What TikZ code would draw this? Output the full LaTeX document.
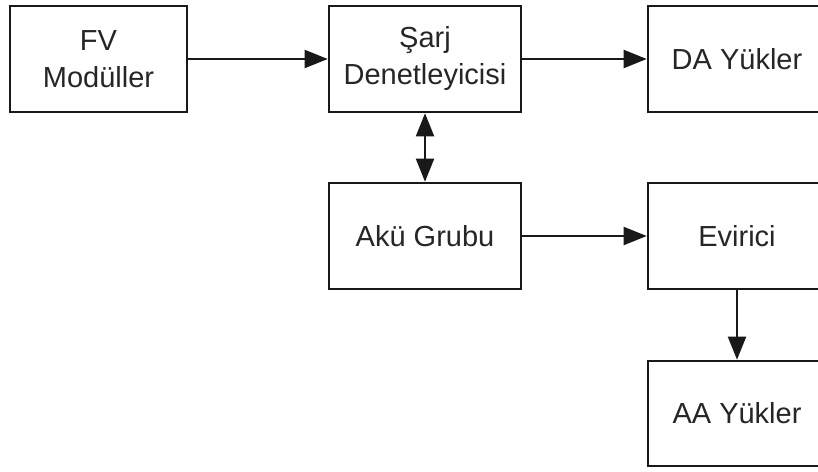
\documentclass[tikz,border=0pt]{standalone}
\usepackage{fontspec}
\setmainfont{Liberation Sans}
\usetikzlibrary{arrows.meta}
\begin{document}
\begin{tikzpicture}[x=1pt,y=-1pt,
  blk/.style={draw=black!90, line width=2.6pt, minimum width=#1, minimum height=106pt, inner sep=0pt, align=center, font=\fontsize{29}{37}\selectfont, text=black!85},
  blk/.default=177pt,
  conn/.style={draw=black!90, line width=2pt, -{Triangle[length=23pt,width=18pt]}},
  dconn/.style={draw=black!90, line width=2pt, {Triangle[length=23pt,width=18pt]}-{Triangle[length=23pt,width=18pt]}}]
\clip (0,0) rectangle (818,471);
\fill[white] (0,0) rectangle (818,471);
\node[blk=177pt] (fv) at (98.5,59) {FV\\Modüller};
\node[blk=192pt] (sarj) at (425,59) {Şarj\\Denetleyicisi};
\node[blk=178pt] (da) at (737,59) {DA Yükler};
\node[blk=192pt] (aku) at (425,236) {Akü Grubu};
\node[blk=178pt] (evi) at (737,236) {Evirici};
\node[blk=178pt, minimum height=105pt] (aa) at (737,413.5) {AA Yükler};
\draw[conn] (fv) -- (sarj);
\draw[conn] (sarj) -- (da);
\draw[conn] (aku) -- (evi);
\draw[conn] (evi) -- (aa);
\draw[dconn] (sarj) -- (aku);
\end{tikzpicture}
\end{document}
